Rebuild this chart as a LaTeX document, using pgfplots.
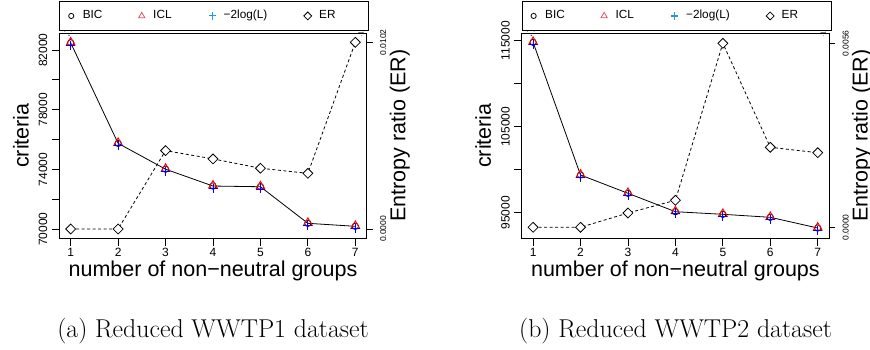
\documentclass[border=0pt]{standalone}
\usepackage{fontspec}
\usepackage{pgfplots}
\usepackage{pgfplotstable}
\pgfplotsset{compat=1.18}
\newfontfamily\rsans{Liberation Sans}
\definecolor{iclred}{HTML}{DF536B}
\definecolor{llblue}{HTML}{2297E6}

% k: number of non-neutral groups; bic, icl, ll (= -2log(L)) criteria; er: entropy ratio
\pgfplotstableread{
k bic icl ll er
1 82482 82512 82332 0.0000
2 75742 75772 75592 0.0000
3 74010 74040 73860 0.00428
4 72881 72911 72731 0.00383
5 72834 72864 72684 0.00332
6 70382 70412 70232 0.00304
7 70181 70211 70031 0.0102
}\wwtpone
\pgfplotstableread{
k bic icl ll er
1 114814 114864 114564 0.0000
2 99384 99434 99134 0.0000
3 97256 97306 97006 0.000435
4 95116 95166 94866 0.000822
5 94814 94864 94564 0.0056
6 94465 94515 94215 0.002435
7 93221 93271 92971 0.00227
}\wwtptwo

\pgfplotsset{
  rpanel/.style={
    scale only axis, width=307.4pt, height=204.7pt,
    xmin=0.76, xmax=7.24, clip=false,
    tick align=outside,
    axis line style={black, line width=0.9pt},
    every tick/.style={black, line width=0.8pt},
  },
  critaxis/.style={
    rpanel, tick pos=left, major tick length=7.5pt,
    xtick={1,2,3,4,5,6,7}, xticklabels={1,2,3,4,5,6,7},
    xticklabel style={font=\rsans\fontsize{12}{14}\selectfont, inner sep=0pt},
    xticklabel shift=2.9pt,
    yticklabel style={font=\rsans\fontsize{12}{14}\selectfont, rotate=90, anchor=south, inner sep=0pt},
    yticklabel shift=4.25pt,
    xlabel={number of non−neutral groups}, ylabel={criteria},
    label style={font=\rsans\fontsize{21.5}{24}\selectfont},
    xlabel style={at={([yshift=-33pt]axis description cs:0.5,0)}, anchor=center},
    ylabel style={at={([xshift=-38.4pt]axis description cs:0,0.5)}, anchor=center},
  },
  eraxis/.style={
    rpanel, axis x line=none, axis y line*=right, major tick length=6pt,
    yticklabel style={font=\rsans\fontsize{8.5}{10}\selectfont, rotate=90, anchor=north, inner sep=0pt},
    yticklabel shift=7.3pt,
    ylabel={Entropy ratio (ER)},
    ylabel style={font=\rsans\fontsize{21.5}{24}\selectfont, at={([xshift=33pt]axis description cs:1,0.5)}, anchor=center},
    legend style={
      at={([yshift=2.6pt]axis description cs:0,1)}, anchor=south west,
      legend columns=4, draw=black, line width=0.9pt,
      font=\rsans\fontsize{11.8}{13}\selectfont,
      inner xsep=7.5pt, inner ysep=8.8pt,
      nodes={inner xsep=0pt, inner ysep=0pt, text height=8.5pt, text depth=2.5pt},
      /tikz/every odd column/.append style={column sep=7.5pt},
      /tikz/every even column/.append style={column sep=0pt},
    },
    legend cell align=left,
  },
  bicline/.style={black, line width=0.8pt, mark=o, mark size=3.2pt, mark options={solid, line width=0.8pt}},
  iclmark/.style={only marks, red, mark=triangle, mark size=5pt, mark options={line width=0.9pt}},
  llmark/.style={only marks, blue, mark=+, mark size=4.5pt, mark options={line width=0.9pt}},
  erline/.style={black, line width=0.8pt, dash pattern=on 3pt off 2.5pt, mark=square*, mark size=3.5pt,
    mark options={solid, rotate=45, fill=white, draw=black, line width=0.8pt}},
}

% legend symbols, each in a fixed 8pt wide cell
\newcommand{\legendsymbols}{%
  \addlegendimage{legend image code/.code={\path[draw=none, fill=none] (-4pt,-4pt) rectangle (4pt,4pt);
    \draw[black, line width=0.8pt, mark=o, mark size=2.6pt] plot coordinates {(0pt,0pt)};}}
  \addlegendimage{legend image code/.code={\path[draw=none, fill=none] (-4pt,-4pt) rectangle (4pt,4pt);
    \draw[iclred, line width=0.8pt, mark=triangle, mark size=3.6pt] plot coordinates {(0pt,0pt)};}}
  \addlegendimage{legend image code/.code={\path[draw=none, fill=none] (-4pt,-4pt) rectangle (4pt,4pt);
    \draw[llblue, line width=1.1pt, mark=+, mark size=3.6pt] plot coordinates {(0pt,0pt)};}}
  \addlegendimage{legend image code/.code={\path[draw=none, fill=none] (-4pt,-4pt) rectangle (4pt,4pt);
    \draw[black, line width=0.8pt, mark=square, mark size=2.8pt, mark options={rotate=45}] plot coordinates {(0pt,0pt)};}}
}
% legend texts in fixed-width cells
\newcommand{\legendtexts}{%
  \legend{\makebox[55pt][l]{BIC}, \makebox[55pt][l]{ICL}, \makebox[80pt][l]{−2log(L)}, \makebox[42pt][l]{ER}}}

\begin{document}
\begin{tikzpicture}
\path[use as bounding box] (0pt,0pt) rectangle (870pt,349pt);

% ---- (a) WWTP1 ----
\begin{axis}[critaxis, at={(59.3pt,111pt)}, anchor=south west,
  ymin=69397, ymax=83120,
  ytick={70000,72000,...,82000}, yticklabels={70000,,74000,,78000,,82000}]
  \addplot[bicline] table[x=k, y=bic] {\wwtpone};
  \addplot[iclmark] table[x=k, y=icl] {\wwtpone};
  \addplot[llmark] table[x=k, y=ll] {\wwtpone};
\end{axis}
\begin{axis}[eraxis, at={(59.3pt,111pt)}, anchor=south west,
  ymin=-0.000492, ymax=0.010692,
  ytick={0,0.0102}, yticklabels={0.0000,0.0102}]
  \legendsymbols
  \addplot[erline, forget plot] table[x=k, y=er] {\wwtpone};
  \legendtexts
\end{axis}

% ---- (b) WWTP2 ----
\begin{axis}[critaxis, at={(521.7pt,111pt)}, anchor=south west,
  ymin=92058, ymax=115860,
  ytick={95000,100000,...,115000}, yticklabels={95000,,105000,,115000}]
  \addplot[bicline] table[x=k, y=bic] {\wwtptwo};
  \addplot[iclmark] table[x=k, y=icl] {\wwtptwo};
  \addplot[llmark] table[x=k, y=ll] {\wwtptwo};
\end{axis}
\begin{axis}[eraxis, at={(521.7pt,111pt)}, anchor=south west,
  ymin=-0.000326, ymax=0.005904,
  ytick={0,0.0056}, yticklabels={0.0000,0.0056}]
  \legendsymbols
  \addplot[erline, forget plot] table[x=k, y=er] {\wwtptwo};
  \legendtexts
\end{axis}

\node[font=\fontsize{25.8}{30}\selectfont] at (213pt,18pt) {(a) Reduced WWTP1 dataset};
\node[font=\fontsize{25.8}{30}\selectfont] at (675.5pt,18pt) {(b) Reduced WWTP2 dataset};
\end{tikzpicture}
\end{document}
